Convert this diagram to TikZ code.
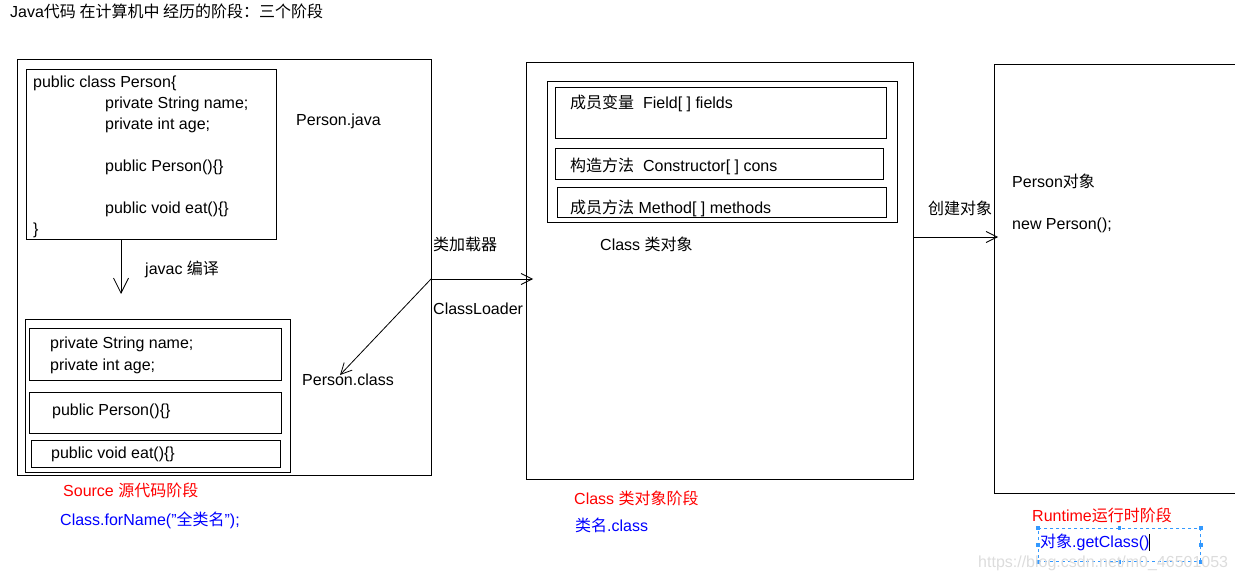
\documentclass[tikz,border=0pt]{standalone}
\usepackage{fontspec}
\setmainfont{Liberation Sans}
\newfontfamily\cjk{Noto Sans CJK SC}
\usepackage{tikz}
\usetikzlibrary{positioning,arrows.meta}
\definecolor{selblue}{HTML}{3399FF}
\definecolor{wmgray}{HTML}{DCDCDC}
\newcommand{\zh}[1]{{\cjk #1}}
\newcommand{\dq}{\symbol{34}}

\begin{document}
\begin{tikzpicture}[x=1pt,y=-1pt,
  every node/.style={font=\fontsize{16}{19}\selectfont, inner sep=0pt},
  frame/.style ={draw, line width=1pt, anchor=north west},
  txt/.style   ={anchor=base west},
  stagename/.style={txt, text=red},
  stagecall/.style={txt, text=blue},
  flow/.style  ={line width=0.8pt, -{Straight Barb[length=11pt,width=11pt]}},
  bigflow/.style={line width=0.8pt, -{Straight Barb[length=15pt,width=15pt]}},
  handle/.style={fill=selblue, minimum size=3.5pt, inner sep=0pt},
]
\useasboundingbox (0,0) rectangle (1235,572);
\node[txt] (title) at (10,18) {Java\zh{代码 在计算机中 经历的阶段：三个阶段}};

% Source stage
\node[frame, minimum width=414pt, minimum height=416pt] (src) at (17,59) {};
\node[frame, minimum width=250pt, minimum height=170pt] (srcjava) at (26,69) {};
\node[txt] (l1) at (33,88)   {public class Person\{};
\node[txt] (l2) at (105,109) {private String name;};
\node[txt] (l3) at (105,130) {private int age;};
\node[txt] (l4) at (105,172) {public Person()\{\}};
\node[txt] (l5) at (105,214) {public void eat()\{\}};
\node[txt] (l6) at (33,235)  {\}};
\node[txt] (pjava) at (296,126) {Person.java};
\node[txt] (javac) at (145,275) {javac \zh{编译}};
\node[frame, minimum width=265pt, minimum height=153pt] (srcclass) at (25,319) {};
\node[frame, minimum width=252pt, minimum height=52pt] (fieldsB) at (29,328) {};
\node[frame, minimum width=252pt, minimum height=41pt] (ctorB) at (29,392) {};
\node[frame, minimum width=249pt, minimum height=27pt] (methB) at (31,440) {};
\node[txt] (b1) at (50,348) {private String name;};
\node[txt] (b2) at (50,370) {private int age;};
\node[txt] (b3) at (52,415) {public Person()\{\}};
\node[txt] (b4) at (51,458) {public void eat()\{\}};
\node[txt] (pclass) at (302,385) {Person.class};
\node[stagename] (srcname) at (63,496) {Source \zh{源代码阶段}};
\node[stagecall] (srccall) at (60,525) {Class.forName(\dq\zh{全类名}\dq);};

% Class stage
\node[frame, minimum width=387pt, minimum height=417pt] (cls) at (526,62) {};
\node[frame, minimum width=350pt, minimum height=141pt] (clsmem) at (547,81) {};
\node[frame, minimum width=331pt, minimum height=51pt] (fieldsC) at (555,87) {};
\node[frame, minimum width=328pt, minimum height=31pt] (ctorC) at (555,148) {};
\node[frame, minimum width=329pt, minimum height=30pt] (methC) at (557,187) {};
\node[txt] (c1) at (570,109) {\zh{成员变量}\ \ Field[ ] fields};
\node[txt] (c2) at (570,172) {\zh{构造方法}\ \ Constructor[ ] cons};
\node[txt] (c3) at (570,214) {\zh{成员方法} Method[ ] methods};
\node[txt] (clsobj) at (600,251) {Class \zh{类对象}};
\node[txt] (loader) at (433,251) {\zh{类加载器}};
\node[txt] (loaderen) at (433,315) {ClassLoader};
\node[stagename] (clsname) at (574,504) {Class \zh{类对象阶段}};
\node[stagecall] (clscall) at (575,531) {\zh{类名}.class};

% Runtime stage
\draw[line width=1pt] (1236,65) -- (994,65) -- (994,493) -- (1236,493);
\node[txt] (pobj) at (1012,188) {Person\zh{对象}};
\node[txt] (pnew) at (1012,230) {new Person();};
\node[txt] (create) at (928,215) {\zh{创建对象}};
\node[stagename] (rtname) at (1032,521) {Runtime\zh{运行时阶段}};
\node[draw=selblue, dashed, line width=0.8pt, minimum width=162pt, minimum height=33pt, anchor=north west] (sel) at (1038,528) {};
\foreach \a in {north west,north,north east,east,south east,south,south west,west}
  \node[handle] at (sel.\a) {};
\node[stagecall] (rtcall) at (1040,547) {\zh{对象}.getClass()};
\draw[line width=0.8pt] (rtcall.east |- 0,534) -- (rtcall.east |- 0,551);
\node[txt, text=wmgray] (wm) at (978,567) {https://blog.csdn.net/m0\_46501053};

% connectors
\coordinate (javacEnd) at (121,294);
\coordinate (loadPt) at (431,279);
\coordinate (loadEnd) at (533,279);
\coordinate (classFile) at (340,375);
\coordinate (newStart) at (913,237);
\coordinate (newEnd) at (998,237);
\draw[bigflow] (javacEnd |- srcjava.south) -- (javacEnd);
\draw[flow] (loadPt) -- (loadEnd);
\draw[flow] (loadPt) -- (classFile);
\draw[flow] (newStart) -- (newEnd);
\end{tikzpicture}
\end{document}
